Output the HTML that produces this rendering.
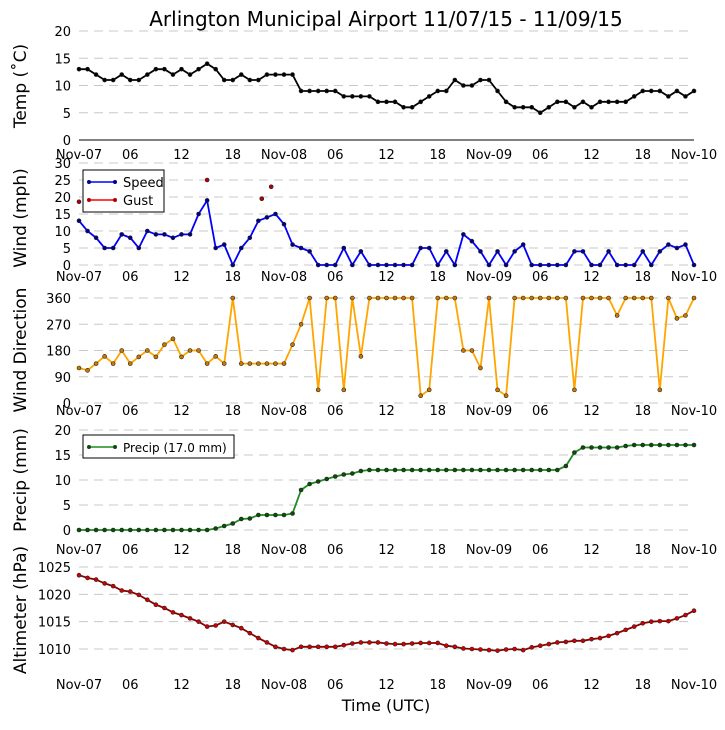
<!DOCTYPE html>
<html><head><meta charset="utf-8">
<style>
body{margin:0;background:#fff;}
svg text{font-family:"DejaVu Sans","Liberation Sans",sans-serif;}
</style></head>
<body>
<svg id="c" width="725" height="725" viewBox="0 0 725 725" xmlns="http://www.w3.org/2000/svg">
<rect width="725" height="725" fill="#fff"/>
<text x="386" y="26" font-size="20" text-anchor="middle">Arlington Municipal Airport 11/07/15 - 11/09/15</text>
<text x="386" y="711" font-size="16" text-anchor="middle">Time (UTC)</text>
</svg>
<script>
const hours = [...Array(73).keys()];
const xTickLabels = ["Nov-07","06","12","18","Nov-08","06","12","18","Nov-09","06","12","18","Nov-10"];
const temp = [13,13,12,11,11,12,11,11,12,13,13,12,13,12,13,14,13,11,11,12,11,11,12,12,12,12,9,9,9,9,9,8,8,8,8,7,7,7,6,6,7,8,9,9,11,10,10,11,11,9,7,6,6,6,5,6,7,7,6,7,6,7,7,7,7,8,9,9,9,8,9,8,9];
const windSpeed = [13,10,8,5,5,9,8,5,10,9,9,8,9,9,15,19,5,6,0,5,8,13,14,15,12,6,5,4,0,0,0,5,0,4,0,0,0,0,0,0,5,5,0,4,0,9,7,4,0,4,0,4,6,0,0,0,0,0,4,4,0,0,4,0,0,0,4,0,4,6,5,6,0];
const gustHours = [0,15,21.4,22.5];
const gustValues = [18.6,25,19.5,23];
const windDir = [120,112,135,160,135,180,135,158,180,158,200,220,158,180,180,135,160,135,360,135,135,135,135,135,135,200,270,360,45,360,360,45,360,160,360,360,360,360,360,360,25,45,360,360,360,180,180,120,360,45,25,360,360,360,360,360,360,360,45,360,360,360,360,300,360,360,360,360,45,360,290,300,360];
const precip = [0,0,0,0,0,0,0,0,0,0,0,0,0,0,0,0,0.3,0.8,1.3,2.2,2.3,3,3,3,3,3.3,8,9.2,9.7,10.2,10.7,11.1,11.3,11.8,12,12,12,12,12,12,12,12,12,12,12,12,12,12,12,12,12,12,12,12,12,12,12,12.8,15.5,16.5,16.5,16.5,16.5,16.5,16.8,17,17,17,17,17,17,17,17];
const altim = [1023.5,1023,1022.7,1022,1021.5,1020.7,1020.5,1019.9,1019,1018.1,1017.5,1016.7,1016.2,1015.6,1015,1014.1,1014.3,1015,1014.4,1013.8,1012.9,1012,1011.2,1010.4,1010,1009.8,1010.4,1010.4,1010.4,1010.4,1010.4,1010.7,1011,1011.2,1011.2,1011.2,1011,1010.9,1010.9,1011,1011.1,1011.1,1011.1,1010.6,1010.4,1010.1,1010,1009.9,1009.8,1009.7,1009.9,1010,1009.8,1010.3,1010.6,1010.9,1011.2,1011.3,1011.5,1011.5,1011.8,1012,1012.4,1012.9,1013.5,1014.1,1014.7,1015,1015.1,1015.1,1015.6,1016.2,1017];
const tempTicks = [0,5,10,15,20];
const windTicks = [0,5,10,15,20,25,30];
const dirTicks = [0,90,180,270,360];
const precipTicks = [0,5,10,15,20];
const altTicks = [1010,1015,1020,1025];

const NS = "http://www.w3.org/2000/svg";
const svg = document.getElementById('c');
const X0 = 79, X1 = 694;
const xs = h => X0 + (X1 - X0) * h / 72;
function mk(tag, attrs, parent) {
  const e = document.createElementNS(NS, tag);
  for (const k in attrs) e.setAttribute(k, attrs[k]);
  (parent || svg).appendChild(e);
  return e;
}
function panel(name, ticks, v0, y0, v1, y1, labelY, title, titleY, bottomLine) {
  const ys = v => y0 + (y1 - y0) * (v - v0) / (v1 - v0);
  const g = mk('g', {});
  
  
  ticks.forEach(t => {
    const l = mk('line', {x1: X0, x2: X1, y1: ys(t), y2: ys(t), stroke: '#c8c8c8', 'stroke-dasharray': '9,6', 'stroke-width': 1}, g);
    
    
    const tx = mk('text', {x: 71, y: ys(t) + 5, 'font-size': 13, 'text-anchor': 'end'}, g);
    tx.textContent = t;
    
    
  });
  if (bottomLine) {
    const bl = mk('line', {x1: X0, x2: X1, y1: ys(0), y2: ys(0), stroke: '#000', 'stroke-width': 1}, g);
    
    
  }
  xTickLabels.forEach((lab, i) => {
    const tx = mk('text', {x: xs(i * 6), y: labelY, 'font-size': 13, 'text-anchor': 'middle'}, g);
    tx.textContent = lab;
    
    
  });
  const tt = mk('text', {x: 0, y: 0, 'font-size': 17, 'text-anchor': 'middle', transform: `translate(26,${titleY}) rotate(-90)`}, g);
  tt.textContent = title;
  
  
  return {g, ys};
}
function series(p, name, xsArr, vals, color, mfill, line) {
  if (line) {
    const d = vals.map((v, i) => (i ? 'L' : 'M') + xs(xsArr[i]).toFixed(1) + ',' + p.ys(v).toFixed(1)).join('');
    const pa = mk('path', {d, fill: 'none', stroke: color, 'stroke-width': 1.8}, p.g);
    
    
  }
  vals.forEach((v, i) => {
    const c = mk('circle', {cx: xs(xsArr[i]), cy: p.ys(v), r: 2, fill: mfill, stroke: '#222', 'stroke-width': 0.6}, p.g);
    
    
  });
}
function legend(name, x, y, w, h, entries, fs) {
  const g = mk('g', {});
  
  
  mk('rect', {x, y, width: w, height: h, fill: '#fff', stroke: '#000', 'stroke-width': 1}, g);
  entries.forEach((e, i) => {
    const cy = y + 12 + i * 18;
    mk('line', {x1: x + 5, x2: x + 33, y1: cy, y2: cy, stroke: e.c, 'stroke-width': 1.5}, g);
    mk('circle', {cx: x + 6, cy, r: 2, fill: e.m}, g);
    mk('circle', {cx: x + 32, cy, r: 2, fill: e.m}, g);
    const t = mk('text', {x: x + 40, y: cy + 5, 'font-size': fs}, g);
    t.textContent = e.t;
    
    
  });
}
const pT = panel('temp', tempTicks, 0, 140, 20, 31, 159, 'Temp (\u02DAC)', 86, true);
series(pT, 'temp', hours, temp, '#000', '#000', true);
const pW = panel('wind', windTicks, 0, 265, 30, 163, 281, 'Wind (mph)', 218, false);
series(pW, 'wind-speed', hours, windSpeed, '#0000ff', '#00008b', true);
series(pW, 'wind-gust', gustHours, gustValues, '#ff0000', '#b00000', false);
legend('wind-legend', 83, 170, 81, 42, [{t: 'Speed', c: '#0000ff', m: '#00008b'}, {t: 'Gust', c: '#ff0000', m: '#b00000'}], 13);
const pD = panel('direction', dirTicks, 0, 403, 360, 298, 415, 'Wind Direction', 350, false);
series(pD, 'wind-direction', hours, windDir, '#ffa500', '#c87800', true);
const pP = panel('precip', precipTicks, 0, 530, 20, 430, 554, 'Precip (mm)', 480, false);
series(pP, 'precip', hours, precip, '#228b22', '#0b4d0b', true);
legend('precip-legend', 83, 435, 151, 23, [{t: 'Precip (17.0 mm)', c: '#228b22', m: '#0b4d0b'}], 12);
const pA = panel('altimeter', altTicks, 1010, 649, 1025, 567, 689, 'Altimeter (hPa)', 610, false);
series(pA, 'altimeter', hours, altim, '#8b0000', '#d00000', true);
</script>
</body></html>
